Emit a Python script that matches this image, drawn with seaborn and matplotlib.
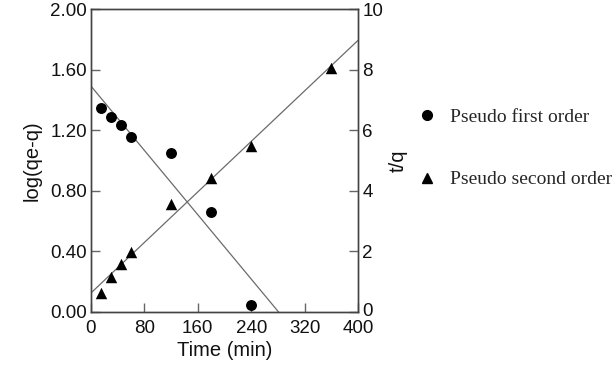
import numpy as np
import pandas as pd
import matplotlib
matplotlib.use("Agg")
import matplotlib.pyplot as plt
import matplotlib.transforms as mtransforms
import seaborn as sns
from matplotlib.lines import Line2D

sns.set_style("ticks")
plt.rcParams['font.family'] = ['Liberation Sans', 'DejaVu Sans']

# Data
time_first = [15, 30, 45, 60, 120, 180, 240]
log_qe_q = [1.345, 1.286, 1.235, 1.155, 1.052, 0.659, 0.044]

time_second = [15, 30, 45, 60, 120, 180, 240, 360]
t_over_q = [0.63, 1.16, 1.60, 1.97, 3.58, 4.43, 5.49, 8.05]

x_ticks = [0, 80, 160, 240, 320, 400]
left_ticks = [0.00, 0.40, 0.80, 1.20, 1.60, 2.00]
right_ticks = [0, 2, 4, 6, 8, 10]
legend_labels = ["Pseudo first order", "Pseudo second order"]

df1 = pd.DataFrame({"t": time_first, "y": log_qe_q})
df2 = pd.DataFrame({"t": time_second, "y": t_over_q})

fig = plt.figure(figsize=(6.16, 3.67), dpi=100)
ax = fig.add_axes([91/616, 1-312/367, (358-91)/616, (312-9)/367])
ax2 = ax.twinx()

line_col = "#6b6b6b"
spine_col = "#444444"

# fitted lines
xfit = np.array([0, 400])
p1 = np.polyfit(df1["t"], df1["y"], 1)
p2 = np.polyfit(df2["t"], df2["y"], 1)
ax.plot(xfit, np.polyval(p1, xfit), color=line_col, lw=0.9, zorder=2)
ax2.plot(xfit, np.polyval(p2, xfit), color=line_col, lw=0.9, zorder=2)

sns.scatterplot(data=df1, x="t", y="y", ax=ax, marker="o", s=62,
                color="black", edgecolor="black", linewidth=0, zorder=3)
sns.scatterplot(data=df2, x="t", y="y", ax=ax2, marker="^", s=68,
                color="black", edgecolor="black", linewidth=0, zorder=3)

ax.set_xlim(0, 400)
ax.set_ylim(0, 2)
ax2.set_ylim(0, 10)
ax.set_xticks(x_ticks)
ax.set_yticks(left_ticks)
ax.set_yticklabels([f"{v:.2f}" for v in left_ticks])
ax2.set_yticks(right_ticks)
ax2.set_yticklabels([str(v) for v in right_ticks])

for a in (ax, ax2):
    for sp in a.spines.values():
        sp.set_visible(True)
        sp.set_color(spine_col)
        sp.set_linewidth(1.0)
    a.tick_params(direction="in", length=6.5, width=1.0, color="#666666",
                  labelsize=13.5, labelcolor="#111111", pad=3)
ax.tick_params(axis="x", pad=6)

# lift the right-axis "0" slightly, as in the reference
lift = mtransforms.ScaledTranslation(0, 3/100, fig.dpi_scale_trans)
lbl0 = ax2.get_yticklabels()[0]
lbl0.set_transform(lbl0.get_transform() + lift)

ax.set_xlabel("Time (min)", fontsize=14.5, color="#111111", labelpad=3)
ax.set_ylabel("log(qe-q)", fontsize=14.5, color="#111111", labelpad=6)
ax2.set_ylabel("t/q", fontsize=14.5, color="#111111", labelpad=4)

handles = [
    Line2D([], [], marker="o", color="black", linestyle="none", markersize=7),
    Line2D([], [], marker="^", color="black", linestyle="none", markersize=7),
]
fig.legend(handles, legend_labels, loc="center left",
           bbox_to_anchor=(419/616, 1-148.5/367), frameon=False,
           prop={"family": "Liberation Serif", "size": 14},
           labelspacing=2.3, handlelength=0.8, handletextpad=0.8,
           borderpad=0, borderaxespad=0)

fig.savefig("out.png", dpi=100)
